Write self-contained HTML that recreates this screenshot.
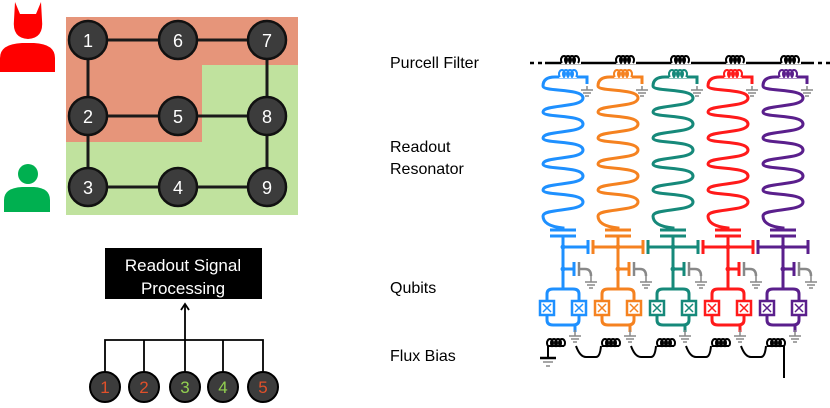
<!DOCTYPE html>
<html><head><meta charset="utf-8"><style>
html,body{margin:0;padding:0;background:#fff;}
body{width:830px;height:403px;overflow:hidden;font-family:"Liberation Sans",sans-serif;}
</style></head><body>
<svg id="s" width="830" height="403" viewBox="0 0 830 403" xmlns="http://www.w3.org/2000/svg" font-family="Liberation Sans, sans-serif">
<!-- regions -->
<rect x="66" y="17" width="232" height="48" fill="#e6957a"/>
<rect x="66" y="65" width="136" height="77" fill="#e6957a"/>
<rect x="202" y="65" width="96" height="77" fill="#c0e29e"/>
<rect x="66" y="142" width="232" height="73" fill="#c0e29e"/>
<g stroke="#1a1a1a" stroke-width="3">
<line x1="88" y1="40" x2="267" y2="40"/><line x1="88" y1="116" x2="267" y2="116"/><line x1="88" y1="187" x2="267" y2="187"/>
<line x1="88" y1="40" x2="88" y2="187"/><line x1="267" y1="40" x2="267" y2="187"/>
</g>
<g fill="#3c3c3c" stroke="#111" stroke-width="2.5">
<circle cx="88" cy="40" r="19"/><circle cx="178" cy="40" r="19"/><circle cx="267" cy="40" r="19"/>
<circle cx="88" cy="116" r="19"/><circle cx="178" cy="116" r="19"/><circle cx="267" cy="116" r="19"/>
<circle cx="88" cy="187" r="19"/><circle cx="178" cy="187" r="19"/><circle cx="267" cy="187" r="19"/>
</g>
<g fill="#fff" font-size="18" text-anchor="middle">
<text x="88" y="47">1</text><text x="178" y="47">6</text><text x="267" y="47">7</text>
<text x="88" y="123">2</text><text x="178" y="123">5</text><text x="267" y="123">8</text>
<text x="88" y="194">3</text><text x="178" y="194">4</text><text x="267" y="194">9</text>
</g>
<!-- red person -->
<g fill="#f00">
<path d="M15,2 L20,14 L36,14 L41,2 L42,20 Q44,38 28,39 Q12,38 14,20 Z"/>
<path d="M0,72 L0,58 Q0,44 22,43 L34,43 Q55,44 55,58 L55,72 Z"/>
</g>
<!-- green person -->
<g fill="#00b050">
<circle cx="28" cy="174" r="10"/>
<path d="M4,212 L4,200 Q4,188 22,187 L34,187 Q50,188 50,200 L50,212 Z"/>
</g>
<!-- readout box -->
<rect x="105" y="248" width="157" height="51" fill="#000"/>
<text x="183" y="271" fill="#fff" font-size="17" text-anchor="middle">Readout Signal</text>
<text x="183" y="294" fill="#fff" font-size="17" text-anchor="middle">Processing</text>
<g stroke="#000" stroke-width="1.8" fill="none">
<line x1="185" y1="340" x2="185" y2="304"/><path d="M181,310 L185,304 L189,310"/>
<path d="M105,372 V340 H263 V372"/>
<line x1="144" y1="340" x2="144" y2="372"/><line x1="185" y1="340" x2="185" y2="372"/><line x1="223" y1="340" x2="223" y2="372"/>
</g>
<g fill="#3c3c3c" stroke="#000" stroke-width="2">
<circle cx="105" cy="387" r="15"/><circle cx="144" cy="387" r="15"/><circle cx="185" cy="387" r="15"/><circle cx="223" cy="387" r="15"/><circle cx="263" cy="387" r="15"/>
</g>
<g font-size="17" text-anchor="middle">
<text x="105" y="393" fill="#e0502a">1</text><text x="144" y="393" fill="#e0502a">2</text><text x="185" y="393" fill="#92d050">3</text><text x="223" y="393" fill="#92d050">4</text><text x="263" y="393" fill="#e0502a">5</text>
</g>
<!-- labels -->
<g font-size="16" fill="#000">
<text x="390" y="68">Purcell Filter</text>
<text x="390" y="152">Readout</text>
<text x="390" y="174">Resonator</text>
<text x="390" y="293">Qubits</text>
<text x="390" y="361">Flux Bias</text>
</g>
<g id="circ"></g>
</svg>
<script>
var cols=[563,618,673,728,783],colors=["#1e90ff","#f58220","#16897a","#ff1a1a","#5a1f8c"];
var h="";
function coil(x0,y,n,col,sw){var d="M"+x0+","+y;for(var i=0;i<n;i++){d+=" a3,4 0 1 1 4,0";}return '<path d="'+d+'" stroke="'+col+'" stroke-width="'+sw+'" fill="none"/>';}
function gnd(x,y,col){return '<g stroke="'+col+'" stroke-width="1.5"><line x1="'+x+'" y1="'+(y-6)+'" x2="'+x+'" y2="'+y+'"/><line x1="'+(x-6)+'" y1="'+y+'" x2="'+(x+6)+'" y2="'+y+'"/><line x1="'+(x-4)+'" y1="'+(y+3)+'" x2="'+(x+4)+'" y2="'+(y+3)+'"/><line x1="'+(x-2)+'" y1="'+(y+6)+'" x2="'+(x+2)+'" y2="'+(y+6)+'"/></g>';}
// purcell
h+='<line x1="530" y1="63" x2="545" y2="63" stroke="#000" stroke-width="2.5" stroke-dasharray="4,4"/>';
h+='<line x1="545" y1="63" x2="810" y2="63" stroke="#000" stroke-width="2.5"/>';
h+='<line x1="810" y1="63" x2="830" y2="63" stroke="#000" stroke-width="2.5" stroke-dasharray="4,4"/>';
cols.forEach(function(c,k){
 var col=colors[k];
 h+='<rect x="'+(c-2)+'" y="55" width="20" height="9" fill="#fff"/>'+coil(c-1,63,4,"#000",2);
 // top loop
 h+='<path d="M'+(c-8)+',77 H'+(c+24)+' V84" stroke="'+col+'" stroke-width="3" fill="none"/>';
 h+='<rect x="'+(c-4)+'" y="70" width="18" height="8" fill="#fff"/>'+coil(c-3,77,4,col,2);
 h+=gnd(c+24,90,"#888").replace('y1="84"','y1="86"');
 // meander
 var d="M"+(c-8)+",77 Q"+(c-20)+",77 "+(c-20)+",86";
 var y=86;
 for(var i=0;i<5;i++){
   d+=" C"+(c-20)+","+(y+6)+" "+(c+20)+","+(y+2)+" "+(c+20)+","+(y+12);
   d+=" C"+(c+20)+","+(y+22)+" "+(c-20)+","+(y+18)+" "+(c-20)+","+(y+26);
   y+=26;
 }
 d+=" Q"+(c-20)+","+(y+10)+" "+c+","+(y+12)+" V230";
 h+='<path d="'+d+'" stroke="'+col+'" stroke-width="3" fill="none"/>';
 // capacitor
 h+='<g stroke="'+col+'" stroke-width="3" fill="none"><line x1="'+(c-13)+'" y1="230" x2="'+(c+13)+'" y2="230"/><line x1="'+(c-13)+'" y1="236" x2="'+(c+13)+'" y2="236"/>';
 h+='<path d="M'+c+',236 V290"/><path d="M'+c+',247 H'+(c+25)+'"/><line x1="'+(c+25)+'" y1="240" x2="'+(c+25)+'" y2="254"/>';
 if(k>0){h+='<path d="M'+(c-25)+',247 H'+c+'"/><line x1="'+(c-25)+'" y1="240" x2="'+(c-25)+'" y2="254"/>';}
 h+='<path d="M'+c+',269 H'+(c+11)+'"/><line x1="'+(c+11)+'" y1="262" x2="'+(c+11)+'" y2="276"/>';
 h+='<path d="M'+(c-16)+',300 V294 Q'+(c-16)+',289 '+(c-10)+',289 H'+(c+10)+' Q'+(c+16)+',289 '+(c+16)+',294 V300"/>';
 h+='<path d="M'+(c-16)+',316 V320 Q'+(c-16)+',325 '+(c-10)+',325 H'+(c+10)+' Q'+(c+16)+',325 '+(c+16)+',320 V316"/>';
 h+='<path d="M'+(c+12)+',325 V332"/>';
 h+='<rect x="'+(c-23)+'" y="301" width="14" height="14" stroke-width="2.5"/><rect x="'+(c+9)+'" y="301" width="14" height="14" stroke-width="2.5"/>';
 h+='<path d="M'+(c-20)+',304 l8,8 M'+(c-12)+',304 l-8,8 M'+(c+12)+',304 l8,8 M'+(c+20)+',304 l-8,8" stroke-width="1.5"/>';
 h+='</g>';
 h+='<circle cx="'+c+'" cy="247" r="2.5" fill="'+col+'"/><circle cx="'+c+'" cy="269" r="2.5" fill="'+col+'"/>';
 h+=gnd(c+12,336,"#888");
 // gray
 h+='<g stroke="#888" stroke-width="2.5" fill="none"><line x1="'+(c+16)+'" y1="262" x2="'+(c+16)+'" y2="276"/><path d="M'+(c+16)+',269 H'+(c+22)+' Q'+(c+28)+',269 '+(c+28)+',276"/></g>';
 h+=gnd(c+28,282,"#888");
});
// flux bias
var fd="M548,358 V346";
cols.forEach(function(c,k){
  var x0=c-16;
  if(k>0) fd+=" Q"+(x0-4)+",357 "+(x0-8)+",357 H"+(x0-38)+" Q"+(x0-44)+",357 "+(x0-44)+",346";
});
var f='<path d="M548,358 V346 M576,346 Q580,357 586,357 H596 Q600,357 601,346 M631,346 Q635,357 641,357 H651 Q655,357 656,346 M686,346 Q690,357 696,357 H706 Q710,357 711,346 M741,346 Q745,357 751,357 H761 Q765,357 766,346 M784,346 V378" stroke="#000" stroke-width="2" fill="none"/>';
h+=f;
cols.forEach(function(c){h+='<line x1="'+(c-16)+'" y1="346" x2="'+(c+1)+'" y2="346" stroke="#000" stroke-width="2"/>'+coil(c-15,346,4,"#000",2);});
h+='<g stroke="#000"><line x1="540" y1="358" x2="556" y2="358" stroke-width="2.5"/></g><g stroke="#888" stroke-width="1.5"><line x1="543" y1="362" x2="553" y2="362"/><line x1="546" y1="366" x2="550" y2="366"/></g>';
document.getElementById("circ").innerHTML=h;
</script>
</body></html>
